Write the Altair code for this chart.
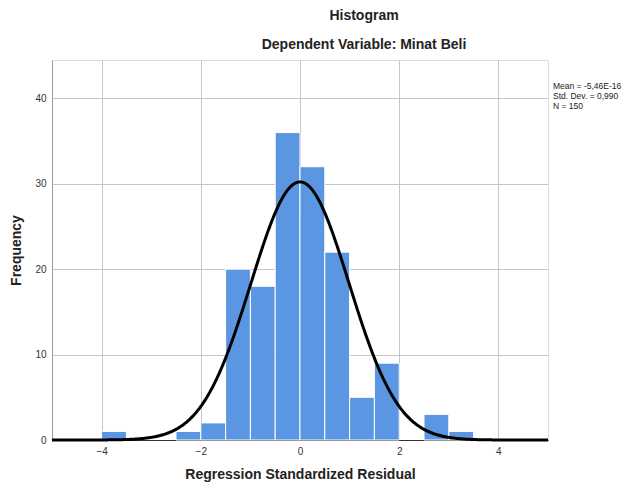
import altair as alt
import pandas as pd

# Histogram bins (lower edge) and counts
bin_lower = [-4.0, -2.5, -2.0, -1.5, -1.0, -0.5, 0.0, 0.5, 1.0, 1.5, 2.5, 3.0]
counts = [1, 1, 2, 20, 18, 36, 32, 22, 5, 9, 3, 1]
bin_width = 0.5

# Stated statistics
mean_val = -5.46e-16
sd_val = 0.990
n_val = 150
stats_lines = ["Mean = -5,46E-16", "Std. Dev. = 0,990", "N = 150"]

x_ticks = [-4, -2, 0, 2, 4]
y_ticks = [0, 10, 20, 30, 40]

df = pd.DataFrame({"lo": bin_lower, "count": counts})
df["hi"] = df["lo"] + bin_width

FONT = "Liberation Sans"

xscale = alt.Scale(domain=[-5, 5], nice=False, zero=False)
yscale = alt.Scale(domain=[0, 44.5], nice=False)

bars = alt.Chart(df).mark_bar(color="#5a96e2", stroke="white", strokeWidth=1, opacity=1).encode(
    x=alt.X("lo:Q", scale=xscale,
            axis=alt.Axis(values=x_ticks, title="Regression Standardized Residual",
                          grid=True, gridColor="#c6c6c6", ticks=False,
                          domainColor="#333333", labelPadding=6, titlePadding=11,
                          labelFont=FONT, labelFontSize=10, labelColor="#333333",
                          titleFont=FONT, titleFontSize=14, titleFontWeight="bold",
                          titleColor="#222222")),
    x2="hi:Q",
    y=alt.Y("count:Q", scale=yscale,
            axis=alt.Axis(values=y_ticks, title="Frequency", grid=True,
                          gridColor="#c6c6c6", ticks=False, domainColor="#9a9a9a",
                          labelPadding=6, titlePadding=11,
                          labelFont=FONT, labelFontSize=10, labelColor="#333333",
                          titleFont=FONT, titleFontSize=14, titleFontWeight="bold",
                          titleColor="#222222")),
    y2=alt.datum(0),
)

curve = alt.Chart(alt.sequence(-5, 5.001, 0.02, as_="x")).transform_calculate(
    y=f"{n_val}*{bin_width}/({sd_val}*sqrt(2*PI))*exp(-0.5*pow((datum.x-({mean_val}))/{sd_val},2))"
).mark_line(color="black", strokeWidth=3).encode(
    x=alt.X("x:Q", scale=xscale),
    y=alt.Y("y:Q", scale=yscale),
)

stats = alt.Chart(pd.DataFrame({"t": ["\n".join(stats_lines)]})).mark_text(
    align="left", baseline="top", font=FONT, fontSize=8.5, lineBreak="\n",
    lineHeight=10, dx=5, color="#222222"
).encode(
    x=alt.datum(5, scale=xscale),
    y=alt.datum(41.9, scale=yscale),
    text="t:N",
)

chart = alt.layer(bars, curve, stats).properties(
    width=496,
    height=380,
    autosize=alt.AutoSizeParams(type="none"),
    padding={"left": 44, "top": 52, "right": 74, "bottom": 44},
    title=alt.TitleParams(
        text="Histogram",
        subtitle="Dependent Variable: Minat Beli",
        font=FONT, fontSize=14, fontWeight="bold", color="#222222",
        subtitleFont=FONT, subtitleFontSize=14, subtitleFontWeight="bold",
        subtitleColor="#222222", subtitlePadding=15,
        anchor="middle", dx=64, offset=8,
    ),
).configure_view(stroke=None).configure(background="white")

chart.save("out.html", embed_options={"renderer": "svg", "actions": False})
